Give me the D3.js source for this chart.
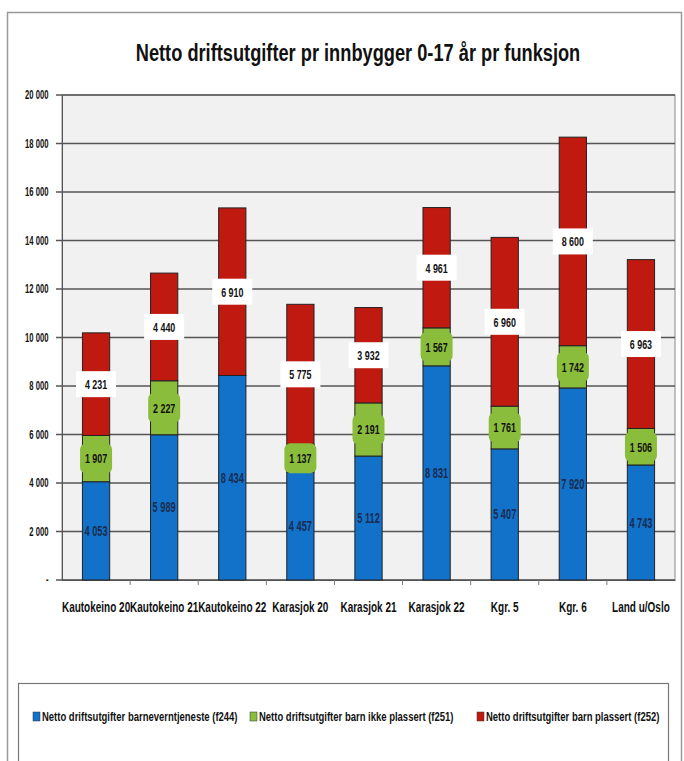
<!DOCTYPE html>
<html>
<head>
<meta charset="utf-8">
<script src="https://cdn.jsdelivr.net/npm/d3@7"></script>
<style>
  body { margin: 0; background: #fff; }
  text { font-family: "Liberation Sans", Arial, sans-serif; font-weight: bold; }
</style>
</head>
<body>
<div id="chart"></div>
<script>
// kategorier og verdier
let categories = ["Kautokeino 20", "Kautokeino 21", "Kautokeino 22", "Karasjok 20", "Karasjok 21", "Karasjok 22", "Kgr. 5", "Kgr. 6", "Land u/Oslo"]
let f244 = [4053, 5989, 8434, 4457, 5112, 8831, 5407, 7920, 4743]
let f251 = [1907, 2227, 0, 1137, 2191, 1567, 1761, 1742, 1506]
let f252 = [4231, 4440, 6910, 5775, 3932, 4961, 6960, 8600, 6963]
let seriesNames = ["Netto driftsutgifter barneverntjeneste (f244)", "Netto driftsutgifter barn ikke plassert (f251)", "Netto driftsutgifter barn plassert (f252)"]
let yTicks = [0, 2000, 4000, 6000, 8000, 10000, 12000, 14000, 16000, 18000, 20000]

let colors = ["#1272c9", "#8bbd3c", "#c01a10"]

var W = 684, H = 761
var margin = { top: 95, right: 9, bottom: 181, left: 62 },
    width = W - margin.left - margin.right,
    height = H - margin.top - margin.bottom

// no narrow font installed, so squeeze text sideways
function narrow(sel, k) {
    sel.each(function () {
        let t = d3.select(this)
        let old = t.attr("transform") || ""
        t.attr("transform", old + " scale(" + k + ",1)")
    })
}

var svg = d3.select("#chart").append("svg")
    .attr("width", W)
    .attr("height", H)

// outer frame
svg.append("rect")
    .attr("x", 7.5).attr("y", 12.5)
    .attr("width", 674).attr("height", 760)
    .attr("fill", "#fff")
    .attr("stroke", "#999").attr("stroke-width", 1.5)

svg.append("text")
    .attr("transform", "translate(358,61) scale(0.76,1)")
    .attr("text-anchor", "middle")
    .style("font-size", "24px")
    .attr("fill", "#111")
    .text("Netto driftsutgifter pr innbygger 0-17 år pr funksjon")

var g = svg.append("g")
    .attr("transform", "translate(" + margin.left + "," + margin.top + ")")

var x = d3.scaleBand()
    .domain(categories)
    .range([0, width])
    .paddingInner(0.6)
    .paddingOuter(0.3)

var y = d3.scaleLinear()
    .domain([0, 20000])
    .range([height, 0])

// plot background
g.append("rect")
    .attr("width", width).attr("height", height)
    .attr("fill", "#f1f1f1")
    .attr("stroke", "#888")

// grid
g.selectAll(".grid")
    .data(yTicks)
    .enter().append("line")
    .attr("x1", -6).attr("x2", width)
    .attr("y1", d => y(d)).attr("y2", d => y(d))
    .attr("stroke", "#555").attr("stroke-width", 1.6)

let fmt = v => d3.format(",")(v).replace(",", " ")

// y axis
var yAxis = g.append("g")
    .call(d3.axisLeft(y).tickValues(yTicks).tickSize(0).tickPadding(21)
        .tickFormat(d => d === 0 ? "-" : fmt(d)))
yAxis.select(".domain").attr("stroke", "#555")
yAxis.selectAll("text")
    .style("font-size", "12px")
    .attr("fill", "#111")
    .call(narrow, 0.64)

// x axis
var xAxis = g.append("g")
    .attr("transform", "translate(0," + height + ")")
    .call(d3.axisBottom(x).tickSize(0).tickPadding(22))
xAxis.select(".domain").attr("stroke", "#555")
xAxis.selectAll("text")
    .style("font-size", "14.5px")
    .attr("fill", "#111")
    .call(narrow, 0.69)

// small ticks between categories
g.selectAll(".xt")
    .data(categories.slice(1))
    .enter().append("line")
    .attr("x1", d => x(d) - x.step() * x.paddingInner() / 2)
    .attr("x2", d => x(d) - x.step() * x.paddingInner() / 2)
    .attr("y1", height).attr("y2", height + 5)
    .attr("stroke", "#777")

// stack data
let rows = categories.map((c, i) => ({ cat: c, f244: f244[i], f251: f251[i], f252: f252[i] }))
let keys = ["f244", "f251", "f252"]
let stacked = d3.stack().keys(keys)(rows)

stacked.forEach((layer, li) => {
    g.selectAll(".bar" + li)
        .data(layer)
        .enter().append("rect")
        .attr("x", d => x(d.data.cat))
        .attr("y", d => y(d[1]))
        .attr("width", x.bandwidth())
        .attr("height", d => y(d[0]) - y(d[1]))
        .attr("fill", colors[li])
        .attr("stroke", "#222")
        .attr("stroke-width", 1)
})

// labels
stacked.forEach((layer, li) => {
    let lab = g.selectAll(".lab" + li)
        .data(layer.filter(d => d[1] - d[0] > 0))
        .enter().append("g")
        .attr("transform", d => "translate(" + (x(d.data.cat) + x.bandwidth() / 2) + "," + y((d[0] + d[1]) / 2) + ")")

    if (li === 1) {
        lab.append("rect")
            .attr("x", -16).attr("y", -15)
            .attr("width", 32).attr("height", 30)
            .attr("rx", 6)
            .attr("fill", colors[1])
    }
    if (li === 2) {
        lab.append("rect")
            .attr("x", -20).attr("y", -13)
            .attr("width", 40).attr("height", 26)
            .attr("fill", "#fff")
    }
    lab.append("text")
        .attr("text-anchor", "middle")
        .attr("dy", "0.36em")
        .style("font-size", li === 0 ? "14px" : "13.5px")
        .attr("fill", li === 0 ? "#1a2c50" : "#111")
        .text(d => fmt(d[1] - d[0]))
        .call(narrow, 0.66)
})

// legend box
svg.append("rect")
    .attr("x", 18.5).attr("y", 683.5)
    .attr("width", 650).attr("height", 90)
    .attr("fill", "#fff")
    .attr("stroke", "#777").attr("stroke-width", 1.2)

let legX = [33, 250, 477]
let leg = svg.selectAll(".leg")
    .data(seriesNames)
    .enter().append("g")
    .attr("transform", (d, i) => "translate(" + legX[i] + ",717)")
leg.append("rect")
    .attr("x", 0).attr("y", -5)
    .attr("width", 7).attr("height", 9)
    .attr("fill", (d, i) => colors[i])
    .attr("stroke", "#333").attr("stroke-width", 0.5)
leg.append("text")
    .attr("dy", "0.32em")
    .attr("transform", "translate(9,0)")
    .style("font-size", "13px")
    .attr("fill", "#111")
    .text(d => d)
    .call(narrow, 0.73)
</script>
</body>
</html>
